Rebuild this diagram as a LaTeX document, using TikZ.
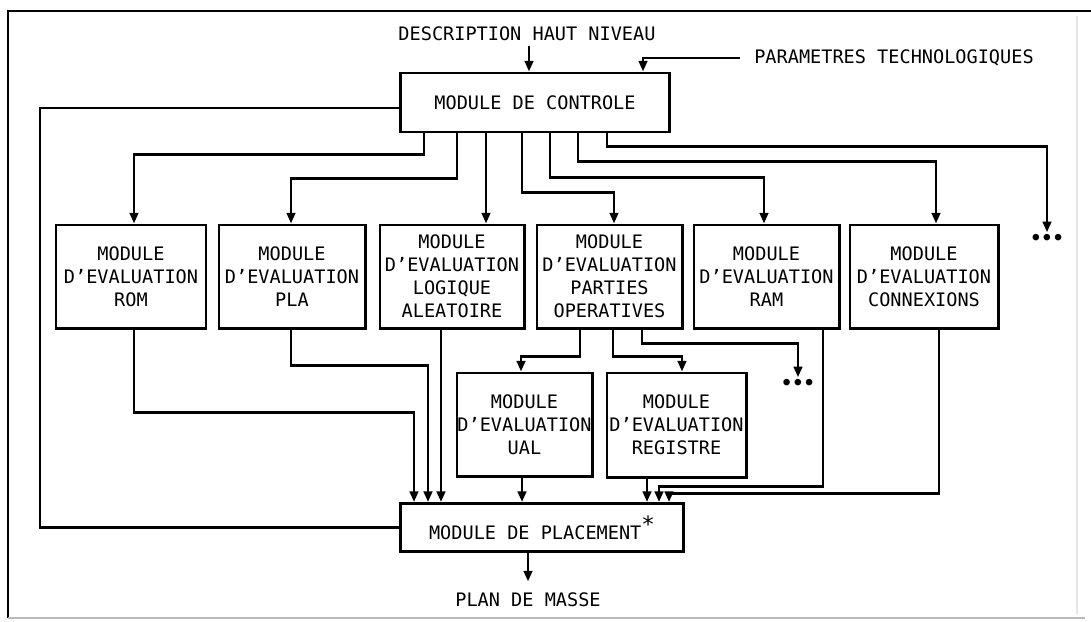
\documentclass[tikz,border=0pt]{standalone}
\usepackage{fontspec}
\setmonofont{DejaVu Sans Mono}
\usetikzlibrary{arrows.meta, positioning, calc}
\tikzset{
  modbox/.style={
    draw, line width=2.1pt, align=center, inner xsep=0pt, inner ysep=2pt,
    font=\ttfamily\fontsize{13.2}{16.4}\selectfont, fill=white
  },
  modlabel/.style={
    font=\ttfamily\fontsize{13.2}{16.4}\selectfont, inner sep=3pt
  },
  moddots/.style={
    font=\ttfamily\bfseries\fontsize{13.2}{16.4}\selectfont, inner sep=1pt
  },
  modlink/.style={-{Triangle[length=7.5pt,width=6pt]}, line width=1.9pt},
  modline/.style={line width=1.9pt},
}

\begin{document}
\begin{tikzpicture}[x=0.025cm, y=-0.025cm]
  \useasboundingbox (0,0) rectangle (1091,621);

  % ── Frame ──────────────────────────────────────────────────────
  \draw[line width=2pt] (1091,11) -- (8,11) -- (8,618);
  \draw[line width=1.4pt, gray!55] (8,618) -- (1085,618);
  \draw[line width=0.8pt, gray!20] (1077,16) -- (1077,614);

  % ── Control module and its inputs ──────────────────────────────
  \node[modbox, minimum width=6.7cm, minimum height=1.475cm]
    (ctrl) at (535,102.5) {MODULE DE CONTROLE};
  \node[modlabel] (desc) at (527,34) {DESCRIPTION HAUT NIVEAU};
  \node[modlabel, inner xsep=10pt] (param) at (894,58) {PARAMETRES TECHNOLOGIQUES};

  \draw[modlink] (desc.south -| 529,0) -- (ctrl.north -| 529,0);
  \draw[modlink] (param.west) -| (ctrl.north -| 643,0);

  % ── Evaluation modules (first level) ───────────────────────────
  \node[modbox, minimum width=3.75cm, minimum height=2.575cm]
    (rom) at (131,276.5) {MODULE\\D’EVALUATION\\ROM};
  \node[modbox, minimum width=3.65cm, minimum height=2.575cm]
    (pla) at (292,276.5) {MODULE\\D’EVALUATION\\PLA};
  \node[modbox, minimum width=3.6cm, minimum height=2.575cm]
    (logic) at (452,276.5) {MODULE\\D’EVALUATION\\LOGIQUE\\ALEATOIRE};
  \node[modbox, minimum width=3.625cm, minimum height=2.575cm]
    (partop) at (609.5,276.5) {MODULE\\D’EVALUATION\\PARTIES\\OPERATIVES};
  \node[modbox, minimum width=3.625cm, minimum height=2.575cm]
    (ram) at (766.5,276.5) {MODULE\\D’EVALUATION\\RAM};
  \node[modbox, minimum width=3.7cm, minimum height=2.575cm]
    (conn) at (924,276.5) {MODULE\\D’EVALUATION\\CONNEXIONS};
  \node[moddots] (dotsA) at (1047,239) {•••};

  % control -> modules
  \draw[modlink] (ctrl.south -| 424,0) -- ++(0,21) -| (rom.north -| 134,0);
  \draw[modlink] (ctrl.south -| 457,0) -- ++(0,45) -| (pla.north -| 291,0);
  \draw[modlink] (ctrl.south -| 486,0) -- (logic.north -| 486,0);
  \draw[modlink] (ctrl.south -| 522,0) -- ++(0,59) -| (partop.north -| 614,0);
  \draw[modlink] (ctrl.south -| 550,0) -- ++(0,44) -| (ram.north -| 764,0);
  \draw[modlink] (ctrl.south -| 578,0) -- ++(0,28) -| (conn.north -| 936,0);
  \draw[modlink] (ctrl.south -| 607,0) -- ++(0,13) -| (dotsA.north);

  % ── Evaluation modules (second level) ──────────────────────────
  \node[modbox, minimum width=3.375cm, minimum height=2.575cm]
    (ual) at (524.5,424.5) {MODULE\\D’EVALUATION\\UAL};
  \node[modbox, minimum width=3.475cm, minimum height=2.6cm]
    (reg) at (676.5,425) {MODULE\\D’EVALUATION\\REGISTRE};
  \node[moddots] (dotsB) at (798,384) {•••};

  \draw[modlink] (partop.south -| 580,0) -- ++(0,27) -| (ual.north -| 521,0);
  \draw[modlink] (partop.south -| 613,0) -- ++(0,27) -| (reg.north -| 682,0);
  \draw[modlink] (partop.south -| 642,0) -- ++(0,14) -| (dotsB.north);

  % ── Placement module ───────────────────────────────────────────
  \node[modbox, minimum width=7.075cm, minimum height=1.2cm]
    (place) at (542,527.5)
    {MODULE DE PLACEMENT{\fontsize{16}{16}\selectfont\raisebox{0.3em}{*}}};
  \node[modlabel, inner ysep=8pt] (masse) at (528,600) {PLAN DE MASSE};

  % modules -> placement
  \draw[modlink] (rom.south -| 134,0) -- ++(0,83) -| (place.north -| 414,0);
  \draw[modlink] (pla.south -| 291,0) -- ++(0,36) -| (place.north -| 428,0);
  \draw[modlink] (logic.south -| 441,0) -- (place.north -| 441,0);
  \draw[modlink] (ual.south -| 522,0) -- (place.north -| 522,0);
  \draw[modlink] (reg.south -| 647,0) -- (place.north -| 647,0);
  \draw[modlink] (ram.south -| 823,0) -- ++(0,157) -| (place.north -| 659,0);
  \draw[modlink] (conn.south -| 939,0) -- ++(0,164) -| (place.north -| 669,0);

  % feedback loop and output
  \draw[modline] (ctrl.west |- 0,108) -- (40,108) |- (place.west);
  \draw[modlink] (masse.north |- place.south) -- (masse.north);
\end{tikzpicture}
\end{document}
